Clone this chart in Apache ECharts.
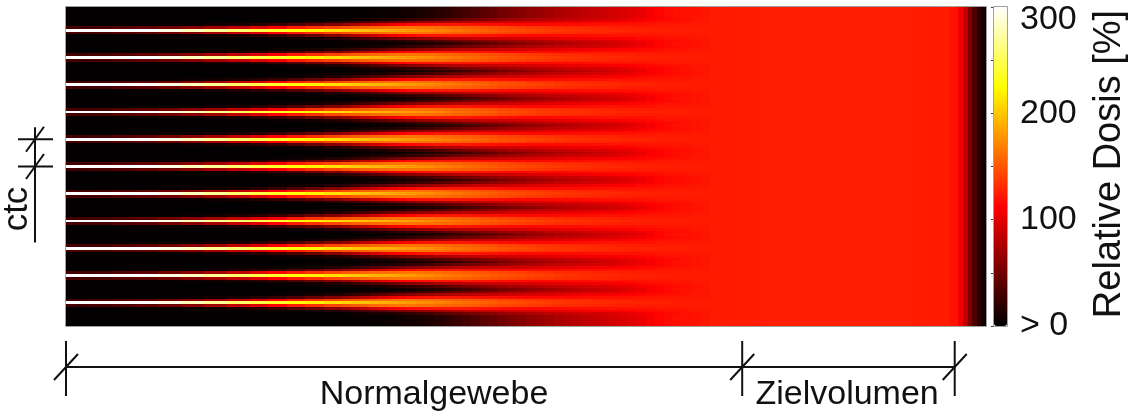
<!DOCTYPE html>
<html>
<head>
<meta charset="utf-8">
<script src="https://cdn.jsdelivr.net/npm/echarts@6/dist/echarts.min.js"></script>
<style>
  html, body { margin: 0; padding: 0; background: #ffffff; }
  #chart { width: 1132px; height: 414px; }
</style>
</head>
<body>
<div id="chart"></div>
<script>
// Depth bin edges (arbitrary depth units, 0 = entrance, 100 = distal end)
const depthEdges = [
  0, 2.5, 5, 7.5, 10, 12.5, 15, 17.5, 20,
  22, 24, 26, 28, 30,
  31, 32, 33, 34, 35, 36, 37, 38, 39, 40, 41, 42, 43, 44, 45, 46, 47, 48, 49, 50,
  51, 52, 53, 54, 55, 56, 57, 58, 59, 60, 61, 62, 63, 64, 65, 66, 67, 68, 69, 70,
  72, 74, 76, 78, 80, 82, 84, 86, 88, 90, 92, 94, 96,
  97, 97.5, 98, 98.5, 99, 99.5, 100
];

// Relative dose [%] per depth bin, by lateral distance from the nearest beam axis (in ctc)
const doseCentre = [
  340, 335, 322, 305, 292, 280, 268, 256,
  246, 237, 228, 220, 212,
  206, 202, 198, 195, 191, 188, 184, 181, 177, 174, 170, 167, 164, 161, 158, 155, 152, 149, 147, 145,
  143, 141, 139, 137, 135, 134, 133, 132, 131, 130, 129, 128, 127, 127, 126, 126, 125, 125, 124, 124,
  124, 125, 125, 126, 126, 126, 126, 126, 126, 126, 126, 125, 124,
  121, 106, 85, 58, 34, 18, 7
];
const doseOffset1 = [ // 0.1 ctc
  30, 32, 36, 42, 50, 60, 72, 86,
  98, 112, 124, 134, 143,
  149, 153, 156, 159, 161, 163, 164, 164, 163, 162, 160, 158, 156, 154, 152, 149, 147, 144, 142, 140,
  138, 136, 135, 133, 132, 131, 130, 129, 128, 127, 126, 126, 125, 125, 124, 124, 124, 124, 124, 124,
  124, 125, 125, 126, 126, 126, 126, 126, 126, 126, 126, 125, 124,
  121, 106, 85, 58, 34, 18, 7
];
const doseOffset2 = [ // 0.2 ctc
  1, 1, 2, 2, 3, 5, 8, 12,
  17, 25, 35, 46, 58,
  68, 76, 84, 92, 99, 106, 112, 116, 119, 121, 122, 122, 122, 122, 121, 120, 119, 118, 117, 116,
  116, 116, 116, 117, 117, 118, 118, 119, 119, 120, 120, 120, 121, 121, 122, 122, 122, 122, 123, 123,
  124, 125, 125, 126, 126, 126, 126, 126, 126, 126, 126, 125, 124,
  121, 106, 85, 58, 34, 18, 7
];
const doseOffset3 = [ // 0.3 ctc
  1, 1, 1, 1, 1, 1, 1, 2,
  2, 4, 6, 9, 14,
  20, 25, 30, 36, 42, 48, 54, 59, 64, 68, 72, 76, 79, 82, 85, 87, 88, 90, 92, 93,
  95, 97, 99, 101, 103, 104, 106, 107, 109, 110, 112, 113, 115, 116, 118, 119, 120, 121, 122, 122,
  124, 125, 125, 126, 126, 126, 126, 126, 126, 126, 126, 125, 124,
  121, 106, 85, 58, 34, 18, 7
];
const doseOffset4 = [ // 0.4 ctc
  1, 1, 1, 1, 1, 1, 1, 1,
  1, 1, 1, 2, 3,
  4, 6, 8, 10, 12, 15, 18, 22, 26, 30, 35, 40, 45, 50, 54, 58, 62, 66, 70, 73,
  76, 79, 82, 85, 87, 89, 91, 93, 95, 97, 100, 103, 107, 111, 114, 116, 118, 119, 121, 122,
  124, 125, 125, 126, 126, 126, 126, 126, 126, 126, 126, 125, 124,
  121, 106, 85, 58, 34, 18, 7
];
const doseValley = [ // 0.5 ctc and beyond
  1, 1, 1, 1, 1, 1, 1, 1,
  1, 1, 1, 1, 1,
  2, 2, 3, 3, 4, 5, 6, 8, 10, 13, 16, 20, 25, 30, 35, 40, 45, 50, 55, 59,
  63, 67, 71, 75, 78, 81, 84, 87, 90, 93, 96, 99, 103, 109, 114, 117, 119, 120, 121, 122,
  124, 125, 125, 126, 126, 126, 126, 126, 126, 126, 126, 125, 124,
  121, 106, 85, 58, 34, 18, 7
];

const beamCount = 11;
const rowsPerPitch = 10;          // lateral rows per centre-to-centre distance
const marginRows = 8;             // rows outside the outermost beams
const ctcBeams = [4, 5];          // beams used for the ctc dimension
const regionBounds = [0, 73.5, 96.6];
const regionNames = ['Normalgewebe', 'Zielvolumen'];
const regionLabelDepth = [40, 84.9];
const colorLabels = { 0: '> 0', 100: '100', 200: '200', 300: '300' };

const FONT = "'Liberation Sans', Arial, Helvetica, sans-serif";
const INK = '#111111';

const profiles = [doseCentre, doseOffset1, doseOffset2, doseOffset3, doseOffset4, doseValley];
const rowCount = marginRows * 2 + (beamCount - 1) * rowsPerPitch + 1;
const beamRows = [];
for (let k = 0; k < beamCount; k++) beamRows.push(marginRows + k * rowsPerPitch);

const cells = [];
for (let r = 0; r < rowCount; r++) {
  let d = Infinity;
  beamRows.forEach(b => { d = Math.min(d, Math.abs(r - b)); });
  const prof = profiles[Math.min(d, profiles.length - 1)];
  for (let c = 0; c < depthEdges.length - 1; c++) {
    cells.push([depthEdges[c], depthEdges[c + 1], r, prof[c]]);
  }
}

function renderCell(params, api) {
  const a = api.coord([api.value(0), api.value(2)]);
  const b = api.coord([api.value(1), api.value(2) + 1]);
  const x = Math.round(a[0]), y = Math.round(a[1]);
  return {
    type: 'rect',
    shape: { x: x, y: y, width: Math.round(b[0]) - x, height: Math.round(b[1]) - y },
    style: { fill: api.visual('color') }
  };
}

const chart = echarts.init(document.getElementById('chart'), null, { renderer: 'canvas' });

const option = {
  animation: false,
  backgroundColor: '#ffffff',
  grid: [
    { left: 66, top: 7, width: 920, height: 319, show: false },
    { left: 994, top: 7, width: 13, height: 319, show: false }
  ],
  xAxis: [
    { type: 'value', gridIndex: 0, min: 0, max: 100, show: false },
    { type: 'value', gridIndex: 1, min: 0, max: 1, show: false }
  ],
  yAxis: [
    { type: 'value', gridIndex: 0, min: 0, max: rowCount, inverse: true, show: false },
    {
      type: 'value', gridIndex: 1, min: 0, max: 300, interval: 50, position: 'right', z: 10,
      axisLine: { show: false },
      splitLine: { show: false },
      axisTick: { show: true, inside: true, length: 3, lineStyle: { color: '#333', width: 1 } },
      axisLabel: {
        margin: 13, color: INK, fontFamily: FONT, fontSize: 34,
        formatter: v => v === 300 ? '{top|300}' : (colorLabels[v] || ''),
        rich: { top: { fontFamily: FONT, fontSize: 34, color: INK, padding: [26, 0, 0, 0] } }
      }
    }
  ],
  visualMap: {
    type: 'continuous',
    min: 0, max: 300,
    dimension: 3,
    seriesIndex: 0,
    orient: 'vertical',
    left: 994, top: 7,
    itemWidth: 13, itemHeight: 319,
    padding: 0,
    calculable: false,
    hoverLink: false,
    text: null,
    inRange: {
      color: ['#000000', '#550000', '#aa0000', '#ff0000', '#ff5500', '#ffaa00', '#ffff00', '#ffff80', '#ffffff']
    }
  },
  series: [{
    type: 'custom',
    xAxisIndex: 0, yAxisIndex: 0,
    renderItem: renderCell,
    encode: { x: [0, 1], y: 2 },
    data: cells,
    progressive: 0,
    silent: true
  }]
};
chart.setOption(option);

// Frames, dimension lines and labels positioned from the grid coordinates
const toPx = (d, r) => chart.convertToPixel({ gridIndex: 0 }, [d, r]);
const topLeft = toPx(0, 0), bottomRight = toPx(100, rowCount);
const cbTop = chart.convertToPixel({ yAxisIndex: 1 }, 300);
const cbBottom = chart.convertToPixel({ yAxisIndex: 1 }, 0);

const lineStyle = { stroke: INK, lineWidth: 2 };
const g = [];
const line = (x1, y1, x2, y2) => g.push({ type: 'line', z: 20, shape: { x1, y1, x2, y2 }, style: lineStyle });

g.push({ type: 'rect', z: 20, shape: { x: topLeft[0] - 0.5, y: topLeft[1] - 0.5, width: bottomRight[0] - topLeft[0] + 1, height: bottomRight[1] - topLeft[1] + 1 },
  style: { fill: null, stroke: '#a0a0a0', lineWidth: 1 } });
g.push({ type: 'rect', z: 20, shape: { x: 993.5, y: cbTop - 0.5, width: 14, height: cbBottom - cbTop + 1 },
  style: { fill: null, stroke: '#a0a0a0', lineWidth: 1 } });

// depth regions along the bottom
const dimY = bottomRight[1] + 41;
const bx = regionBounds.map(b => toPx(b, 0)[0]);
line(bx[0], dimY, bx[bx.length - 1], dimY);
bx.forEach(x => {
  line(x, dimY - 26, x, dimY + 29);
  line(x - 12, dimY + 13, x + 12, dimY - 13);
});
regionNames.forEach((name, i) => {
  g.push({ type: 'text', z: 20, x: toPx(regionLabelDepth[i], 0)[0], y: dimY + 28,
    style: { text: name, fill: INK, font: `34px ${FONT}`, textAlign: 'center', textVerticalAlign: 'middle' } });
});

// centre-to-centre distance at the left edge
const cy = ctcBeams.map(k => toPx(0, beamRows[k] + 0.5)[1]);
const cx = 35;
cy.forEach(y => {
  line(18, y, 53, y);
  line(cx - 9, y + 12.5, cx + 9, y - 12.5);
});
line(cx, cy[0] - 12, cx, cy[1] + 76);
g.push({ type: 'text', z: 20, x: 17, y: 209, rotation: Math.PI / 2,
  style: { text: 'ctc', fill: INK, font: `35px ${FONT}`, textAlign: 'center', textVerticalAlign: 'middle' } });

// colour bar title
g.push({ type: 'text', z: 20, x: 1110, y: 164, rotation: Math.PI / 2,
  style: { text: 'Relative Dosis [%]', fill: INK, font: `38px ${FONT}`, textAlign: 'center', textVerticalAlign: 'middle' } });

chart.setOption({ graphic: g });
</script>
</body>
</html>
